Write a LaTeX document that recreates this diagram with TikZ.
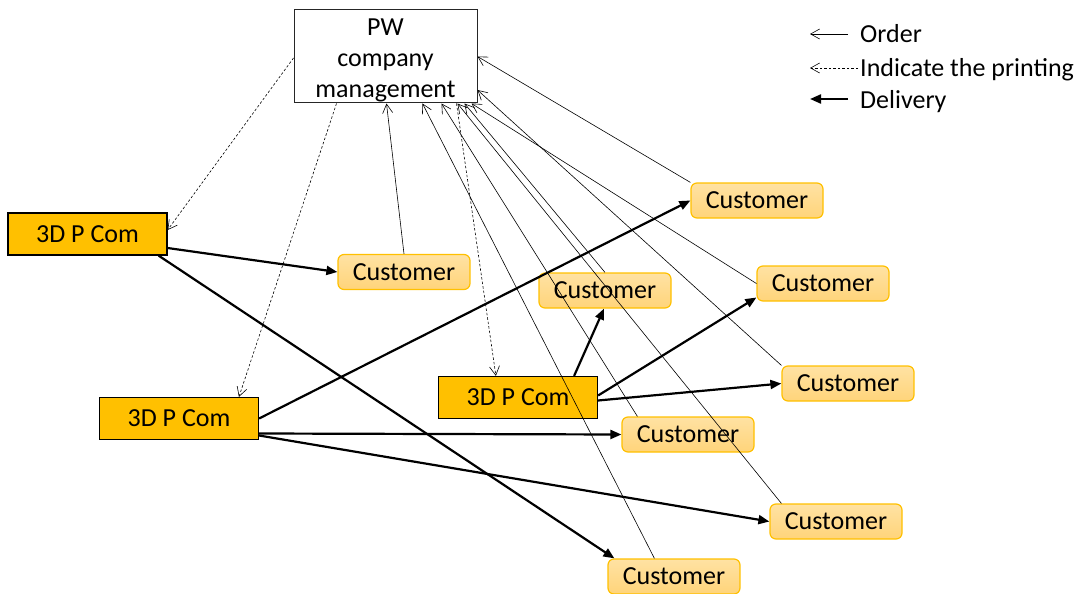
\documentclass[tikz,border=0pt]{standalone}
\usepackage{fontspec}
\setmainfont{Carlito}
\usetikzlibrary{arrows.meta}
\definecolor{gold}{HTML}{FFC000}
\definecolor{custtop}{HTML}{FFE2A3}
\definecolor{custbot}{HTML}{FFD47A}
\begin{document}
\begin{tikzpicture}[x=1pt,y=-1pt,
  font=\fontsize{26}{31}\selectfont,
  pwbox/.style={draw=black!85, line width=1pt, fill=white, minimum width=183pt, minimum height=93pt, align=center, inner sep=0pt},
  printer/.style={draw=black, line width=1.2pt, fill=gold, minimum width=159pt, minimum height=42pt, inner sep=0pt},
  cust/.style={draw=gold, line width=1.2pt, rounded corners=6pt, top color=custtop, bottom color=custbot, minimum width=132pt, minimum height=35pt, inner sep=0pt},
  order/.style={line width=0.6pt, -{Straight Barb[length=9pt,width=10pt]}},
  indicate/.style={line width=0.6pt, dash pattern=on 2.5pt off 2pt, -{Straight Barb[length=9pt,width=10pt]}},
  deliver/.style={line width=2.2pt, -{Triangle[length=11pt,width=9pt]}},
  legtext/.style={anchor=base west, inner sep=0pt}
]
\useasboundingbox (0,0) rectangle (1085,594);

% nodes
\node[pwbox] (pw) at (385.5,56.5) {\rule{0pt}{25pt}PW\\company\\management};
\node[printer] (pa) at (87.5,234) {3D P Com};
\node[printer] (pb) at (179,418.5) {3D P Com};
\node[printer] (pc) at (518,397.5) {3D P Com};

\node[cust] (c1) at (757,200.5) {Customer};
\node[cust] (c2) at (404,272) {Customer};
\node[cust] (c3) at (605,290.5) {Customer};
\node[cust] (c4) at (823,283.5) {Customer};
\node[cust] (c5) at (848,383.5) {Customer};
\node[cust] (c6) at (688,434.5) {Customer};
\node[cust] (c7) at (836,521.5) {Customer};
\node[cust] (c8) at (674,576.5) {Customer};

% legend
\node[legtext] (l1) at (860,43) {Order};
\node[legtext] (l2) at (860,77) {Indicate the printing};
\node[legtext] (l3) at (860,109) {Delivery};
\coordinate (e1) at (810,34);
\coordinate (e2) at (810,68);
\coordinate (e3) at (810,99);
\coordinate (s1) at (848,34);
\coordinate (s2) at (858,68);
\coordinate (s3) at (848,99);
\draw[order] (s1) -- (e1);
\draw[indicate] (s2) -- (e2);
\draw[deliver] (s3) -- (e3);

% indicate the printing
\draw[indicate] ([yshift=-1.5pt]pw.west) -- ([yshift=4pt]pa.east);
\draw[indicate] ([xshift=43pt]pw.south west) -- ([xshift=140pt]pb.north west);
\draw[indicate] ([xshift=163pt]pw.south west) -- ([xshift=58pt]pc.north west);

% delivery
\draw[deliver] ([yshift=-14pt]pa.east) -- (c2.west);
\draw[deliver] ([xshift=-9pt]pa.south east) -- ([xshift=7pt]c8.north west);
\draw[deliver] (pb.east) -- (c1.west);
\draw[deliver] ([yshift=-15pt]pb.east) -- (c6.west);
\draw[deliver] ([yshift=-17pt]pb.east) -- (c7.west);
\draw[deliver] ([xshift=-24pt]pc.north east) -- ([xshift=-1pt]c3.south);
\draw[deliver] ([yshift=2pt]pc.east) -- ([yshift=-14pt]c4.west);
\draw[deliver] ([yshift=-3pt]pc.east) -- (c5.west);

% orders
\draw[order] (c2.north) -- ([xshift=93pt]pw.south west);
\draw[order] ([xshift=47pt]c8.north west) -- ([xshift=129pt]pw.south west);
\draw[order] ([xshift=16pt]c6.north west) -- ([xshift=148pt]pw.south west);
\draw[order] ([xshift=12pt]c7.north west) -- ([xshift=164pt]pw.south west);
\draw[order] (c3.north) -- ([xshift=171pt]pw.south west);
\draw[order] (c4.west) -- ([xshift=178pt]pw.south west);
\draw[order] (c5.north west) -- ([yshift=-33.5pt]pw.east);
\draw[order] (c1.north west) -- (pw.east);
\end{tikzpicture}
\end{document}
